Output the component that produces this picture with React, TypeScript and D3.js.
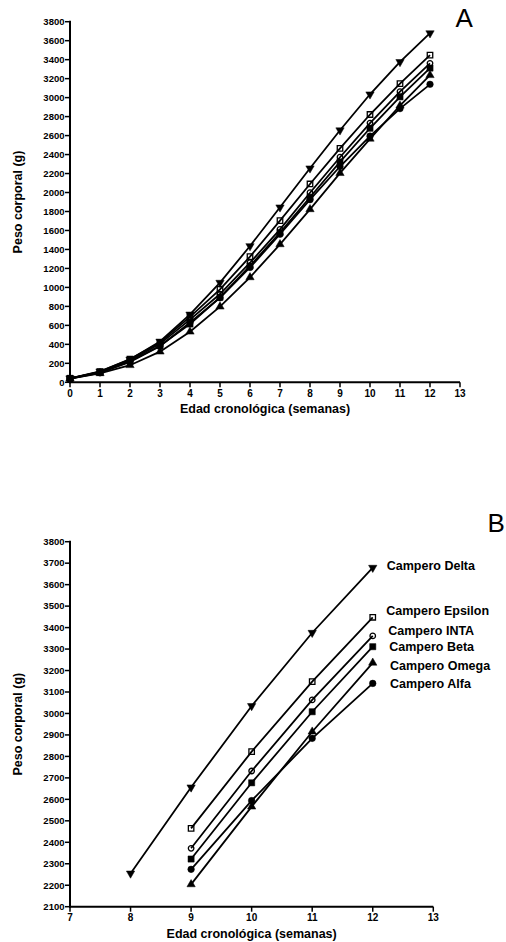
import React from 'react';
import * as d3 from 'd3';

// ---------- DATA ----------
const seriesNames = ['Campero Delta', 'Campero Epsilon', 'Campero INTA', 'Campero Beta', 'Campero Omega', 'Campero Alfa'];
const seriesMarkers = ['triDown', 'squareOpen', 'circleOpen', 'squareFilled', 'triUp', 'circleFilled'];

const weeksA = [0, 1, 2, 3, 4, 5, 6, 7, 8, 9, 10, 11, 12];
const deltaA = [42, 115, 240, 430, 715, 1050, 1436, 1844, 2255, 2656, 3035, 3376, 3679];
const epsilonA = [40, 112, 245, 420, 690, 980, 1324, 1703, 2090, 2465, 2822, 3148, 3448];
const intaA = [40, 108, 230, 405, 660, 930, 1260, 1612, 1998, 2372, 2732, 3063, 3361];
const betaA = [42, 105, 220, 385, 614, 896, 1226, 1577, 1950, 2322, 2677, 3008, 3311];
const omegaA = [40, 95, 180, 323, 533, 797, 1106, 1454, 1823, 2204, 2566, 2915, 3236];
const alfaA = [38, 100, 215, 380, 630, 890, 1210, 1560, 1925, 2274, 2594, 2884, 3140];

const weeksBDelta = [8, 9, 10, 11, 12];
const weeksB = [9, 10, 11, 12];
const deltaB = [2255, 2656, 3035, 3376, 3679];
const epsilonB = [2465, 2822, 3148, 3448];
const intaB = [2372, 2732, 3063, 3361];
const betaB = [2322, 2677, 3008, 3311];
const omegaB = [2204, 2566, 2915, 3236];
const alfaB = [2274, 2594, 2884, 3140];

const xTicksA = d3.range(0, 14, 1);
const yTicksA = d3.range(0, 3801, 200);
const xTicksB = d3.range(7, 14, 1);
const yTicksB = d3.range(2100, 3801, 100);

const xTitle = 'Edad cronológica (semanas)';
const yTitle = 'Peso corporal (g)';

// label vertical nudges (layout)
const labelDy = [-2, -6.5, -5, 0, 3, 0];
const labelDx = [14, 13.5, 15.5, 16.5, 17.3, 17.3];

const FONT = "Arial, 'Liberation Sans', Helvetica, sans-serif";

type Series = { name: string; marker: string; xs: number[]; ys: number[] };

const seriesA: Series[] = [deltaA, epsilonA, intaA, betaA, omegaA, alfaA].map((ys, i) => ({
  name: seriesNames[i], marker: seriesMarkers[i], xs: weeksA, ys,
}));
const seriesB: Series[] = [deltaB, epsilonB, intaB, betaB, omegaB, alfaB].map((ys, i) => ({
  name: seriesNames[i], marker: seriesMarkers[i], xs: i === 0 ? weeksBDelta : weeksB, ys,
}));

function Marker({ type, x, y }: { type: string; x: number; y: number }) {
  let d = '';
  let fill = '#000';
  let rot = 0;
  if (type === 'triDown' || type === 'triUp') {
    d = d3.symbol().type(d3.symbolTriangle).size(30)()!;
    rot = type === 'triDown' ? 180 : 0;
  } else if (type === 'squareOpen' || type === 'squareFilled') {
    d = d3.symbol().type(d3.symbolSquare).size(type === 'squareOpen' ? 30 : 38)()!;
    if (type === 'squareOpen') fill = 'none';
  } else {
    d = d3.symbol().type(d3.symbolCircle).size(type === 'circleOpen' ? 24 : 34)()!;
    if (type === 'circleOpen') fill = 'none';
  }
  return (
    <path
      d={d}
      transform={`translate(${x},${y}) rotate(${rot})`}
      fill={fill}
      stroke="#000"
      strokeWidth={fill === 'none' ? 1.3 : 0.5}
    />
  );
}

function Panel({
  series, xDomain, yDomain, xRange, yRange, xTicks, yTicks, letter, letterPos, showLabels,
}: {
  series: Series[]; xDomain: [number, number]; yDomain: [number, number];
  xRange: [number, number]; yRange: [number, number]; xTicks: number[]; yTicks: number[];
  letter: string; letterPos: [number, number]; showLabels: boolean;
}) {
  const x = d3.scaleLinear().domain(xDomain).range(xRange);
  const y = d3.scaleLinear().domain(yDomain).range(yRange);
  const line = d3.line<[number, number]>().x((d) => x(d[0])).y((d) => y(d[1]));
  const x0 = xRange[0];
  const yb = yRange[0];
  const midY = (yRange[0] + yRange[1]) / 2;
  const midX = (xRange[0] + xRange[1]) / 2;
  return (
    <g>
      {/* lines */}
      {series.map((s) => (
        <path
          key={s.name + 'l'}
          d={line(s.xs.map((w, i) => [w, s.ys[i]]))!}
          fill="none"
          stroke="#000"
          strokeWidth={1.8}
        />
      ))}
      {/* markers */}
      {series.map((s) =>
        s.xs.map((w, i) => <Marker key={s.name + i} type={s.marker} x={x(w)} y={y(s.ys[i])} />)
      )}
      {/* y axis */}
      <line x1={x0} x2={x0} y1={yRange[1] - 1} y2={yb + 1} stroke="#000" strokeWidth={2} />
      {yTicks.map((t) => (
        <g key={'yt' + t}>
          <line x1={x0 - 5} x2={x0} y1={y(t)} y2={y(t)} stroke="#000" strokeWidth={1.5} />
          <text
            x={x0 - 5.5}
            y={y(t)}
            dy="0.35em"
            textAnchor="end"
            fontFamily={FONT}
            fontWeight="bold"
            fontSize={9.5}
          >
            {t}
          </text>
        </g>
      ))}
      {/* x axis */}
      <line x1={x0 - 1} x2={xRange[1]} y1={yb} y2={yb} stroke="#000" strokeWidth={2} />
      {xTicks.map((t) => (
        <g key={'xt' + t}>
          <line x1={x(t)} x2={x(t)} y1={yb} y2={yb + 5} stroke="#000" strokeWidth={1.5} />
          <text
            x={x(t)}
            y={yb + 14.5}
            textAnchor="middle"
            fontFamily={FONT}
            fontWeight="bold"
            fontSize={10}
          >
            {t}
          </text>
        </g>
      ))}
      {/* titles */}
      <text
        x={midX}
        y={yb + 31}
        textAnchor="middle"
        fontFamily={FONT}
        fontWeight="bold"
        fontSize={12.5}
      >
        {xTitle}
      </text>
      <text
        transform={`translate(21.5,${midY}) rotate(-90)`}
        textAnchor="middle"
        fontFamily={FONT}
        fontWeight="bold"
        fontSize={12.5}
      >
        {yTitle}
      </text>
      <text x={letterPos[0]} y={letterPos[1]} fontFamily={FONT} fontSize={26}>
        {letter}
      </text>
      {showLabels &&
        series.map((s, i) => {
          const n = s.xs.length - 1;
          return (
            <text
              key={s.name + 'lab'}
              x={x(s.xs[n]) + labelDx[i]}
              y={y(s.ys[n]) + labelDy[i]}
              dy="0.35em"
              fontFamily={FONT}
              fontWeight="bold"
              fontSize={12.5}
            >
              {s.name}
            </text>
          );
        })}
    </g>
  );
}

export default function App() {
  return (
    <svg
      width={506}
      height={942}
      style={{ position: 'absolute', left: 0, top: 0, background: '#fff' }}
    >
      <rect width={506} height={942} fill="#fff" />
      <Panel
        series={seriesA}
        xDomain={[0, 13]}
        yDomain={[0, 3800]}
        xRange={[70, 460]}
        yRange={[382.3, 21.7]}
        xTicks={xTicksA}
        yTicks={yTicksA}
        letter="A"
        letterPos={[455.5, 27]}
        showLabels={false}
      />
      <Panel
        series={seriesB}
        xDomain={[7, 13]}
        yDomain={[2100, 3800]}
        xRange={[70, 433.3]}
        yRange={[906.7, 541.7]}
        xTicks={xTicksB}
        yTicks={yTicksB}
        letter="B"
        letterPos={[487.5, 532]}
        showLabels={true}
      />
    </svg>
  );
}
